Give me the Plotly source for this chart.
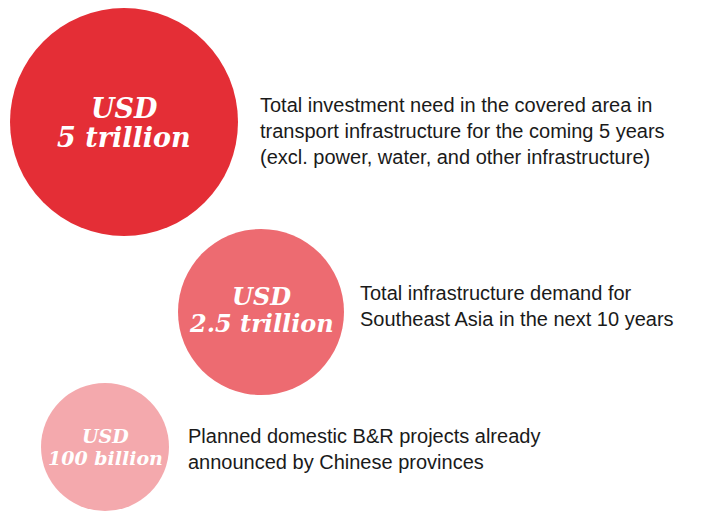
import plotly.graph_objects as go

# Data
amounts = ["5 trillion", "2.5 trillion", "100 billion"]
currency = ["USD", "USD", "USD"]
descriptions = [
    ["Total investment need in the covered area in",
     "transport infrastructure for the coming 5 years",
     "(excl. power, water, and other infrastructure)"],
    ["Total infrastructure demand for",
     "Southeast Asia in the next 10 years"],
    ["Planned domestic B&R projects already",
     "announced by Chinese provinces"],
]

# Layout (pixel-space positions, sizes, styles)
W, H = 714, 511
centers = [(124, 122), (261, 312), (105, 447)]
radii = [114, 83, 64]
colors = ["#E42E36", "#ED6B71", "#F4A9AD"]
big_font = [27, 24, 19]
line_gap = [29, 27, 22]
text_shift = [1, -2, 0]
desc_x = [258, 358, 186]
desc_top = [105, 293, 436]
desc_gap = 26

fig = go.Figure()
fig.add_trace(go.Scatter(x=[0, W], y=[0, H], mode="markers",
                         marker=dict(opacity=0), hoverinfo="skip",
                         showlegend=False))

shapes = []
annotations = []
for i in range(len(amounts)):
    cx, cy = centers[i]
    r = radii[i]
    shapes.append(dict(type="circle", xref="x", yref="y",
                       x0=cx - r, x1=cx + r, y0=cy - r, y1=cy + r,
                       fillcolor=colors[i], line=dict(width=0), layer="below"))
    for j, txt in enumerate([currency[i], amounts[i]]):
        annotations.append(dict(
            x=cx, y=cy - line_gap[i] / 2 + j * line_gap[i] + text_shift[i],
            xref="x", yref="y", text=txt, showarrow=False,
            xanchor="center", yanchor="middle",
            font=dict(family="DejaVu Serif", size=big_font[i],
                      color="white", style="italic", weight="bold")))
    for j, line in enumerate(descriptions[i]):
        annotations.append(dict(
            x=desc_x[i], y=desc_top[i] + j * desc_gap,
            xref="x", yref="y", text=line, showarrow=False,
            xanchor="left", yanchor="middle",
            font=dict(family="Liberation Sans, Arial", size=20, color="#1a1a1a")))

fig.update_layout(
    width=W, height=H, autosize=False,
    margin=dict(l=0, r=0, t=0, b=0),
    paper_bgcolor="white", plot_bgcolor="white",
    xaxis=dict(range=[0, W], visible=False, fixedrange=True),
    yaxis=dict(range=[H, 0], visible=False, fixedrange=True),
    shapes=shapes, annotations=annotations, showlegend=False,
)
fig.write_html("out.html", config={"displayModeBar": False},
               post_script="document.body.style.margin='0';")
